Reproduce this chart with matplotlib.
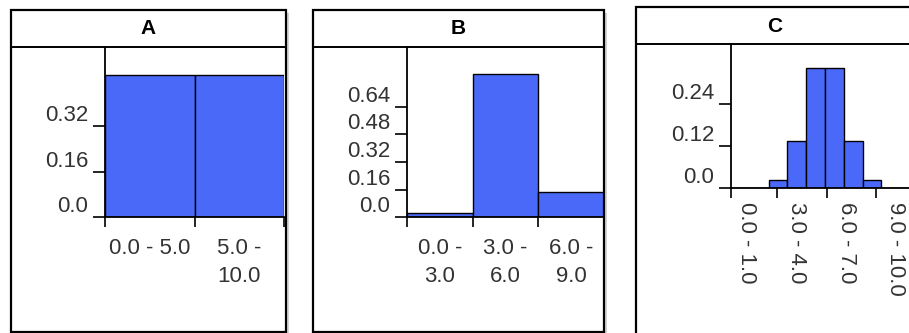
import numpy as np
import matplotlib
matplotlib.use('Agg')
from matplotlib import pyplot as plt
from matplotlib.patches import Rectangle
from matplotlib.lines import Line2D

# data
titles = ['A', 'B', 'C']

labels_a = ['0.0 - 5.0', '5.0 -\n10.0']
values_a = [0.5, 0.5]
yticks_a = [0.0, 0.16, 0.32]

labels_b = ['0.0 -\n3.0', '3.0 -\n6.0', '6.0 -\n9.0']
values_b = [0.023, 0.828, 0.149]
yticks_b = [0.0, 0.16, 0.32, 0.48, 0.64]

labels_c = ['0.0 - 1.0', '1.0 - 2.0', '2.0 - 3.0', '3.0 - 4.0', '4.0 - 5.0',
            '5.0 - 6.0', '6.0 - 7.0', '7.0 - 8.0', '8.0 - 9.0', '9.0 - 10.0']
values_c = [0.0, 0.0, 0.022, 0.134, 0.344, 0.344, 0.134, 0.022, 0.0, 0.0]
yticks_c = [0.0, 0.12, 0.24]

W, H = 909, 333
BAR = '#4A69F8'
TXT = '#333333'
FONT = 'Liberation Sans'

# panel geometry in pixels: box, header line, axis origin/right, y top value
panels = [
    dict(box=(11, 10, 286, 332), head=47, left=105, zero=217.3, right=284, ymax=0.598),
    dict(box=(313, 10, 604, 332), head=47, left=407, zero=217.3, right=604, ymax=0.985),
    dict(box=(636, 7, 914, 350), head=44, left=731, zero=187.7, right=919, ymax=0.412),
]


def fx(x):
    return x / W


def fy(y):
    return 1 - y / H


def fmt(v):
    return '0.0' if v == 0 else f'{v:.2f}'


def draw_frame(fig, p, title):
    x0, y0, x1, y1 = p['box']
    fig.add_artist(Rectangle((fx(x0 + 3), fy(y1 + 3)), fx(x1 - x0), (y1 - y0) / H,
                             transform=fig.transFigure, fc='#d4d4d4', ec='none', zorder=-3))
    fig.add_artist(Rectangle((fx(x0), fy(y1)), fx(x1 - x0), (y1 - y0) / H,
                             transform=fig.transFigure, fc='white', ec='none', zorder=-2))
    fig.add_artist(Rectangle((fx(x0), fy(y1)), fx(x1 - x0), (y1 - y0) / H,
                             transform=fig.transFigure, fill=False, ec='black', lw=1.6, zorder=5))
    fig.add_artist(Line2D([fx(x0), fx(x1)], [fy(p['head'])] * 2,
                          transform=fig.transFigure, color='black', lw=1.4, zorder=5))
    fig.text(fx((x0 + x1) / 2), fy((y0 + p['head']) / 2 + 0.5),
             title, ha='center', va='center', fontsize=15, fontweight='bold',
             family=FONT, color='black')


def make_axes(fig, p):
    ax = fig.add_axes([fx(p['left']), fy(p['zero']),
                       fx(p['right'] - p['left']), (p['zero'] - p['head']) / H])
    ax.set_facecolor('none')
    for s in ['top', 'right']:
        ax.spines[s].set_visible(False)
    for s in ['left', 'bottom']:
        ax.spines[s].set_linewidth(1.3)
    ax.set_ylim(0, p['ymax'])
    return ax


def style_y(ax, ticks):
    ax.set_yticks(ticks)
    ax.set_yticklabels([fmt(t) for t in ticks])
    ax.tick_params(axis='y', length=8.6, width=1.2, pad=3.6, labelsize=16,
                   labelcolor=TXT)
    for lab in ax.get_yticklabels():
        lab.set_va('bottom')
        lab.set_family(FONT)


def plot_cat(ax, labels, values):
    n = len(values)
    x = np.arange(n) + 0.5
    ax.bar(x, values, width=1.0, color=BAR, edgecolor='black', linewidth=1.0)
    ax.set_xlim(0, n)
    ax.set_xticks(np.arange(n + 1))
    ax.set_xticklabels([])
    ax.set_xticks(x, minor=True)
    ax.set_xticklabels(labels, minor=True)
    ax.tick_params(axis='x', which='major', length=7.2, width=1.2)
    ax.tick_params(axis='x', which='minor', length=0, pad=15, labelsize=16,
                   labelcolor=TXT)
    for lab in ax.get_xticklabels(minor=True):
        lab.set_family(FONT)
        lab.set_linespacing(1.4)


fig = plt.figure(figsize=(W / 100, H / 100), dpi=100)
fig.patch.set_facecolor('white')

for p, t in zip(panels, titles):
    draw_frame(fig, p, t)

ax_a = make_axes(fig, panels[0])
plot_cat(ax_a, labels_a, values_a)
style_y(ax_a, yticks_a)

ax_b = make_axes(fig, panels[1])
plot_cat(ax_b, labels_b, values_b)
style_y(ax_b, yticks_b)

# C: every third label, on a slightly compressed label scale
ax_c = make_axes(fig, panels[2])
n_c = len(values_c)
ax_c.bar(np.arange(n_c) + 0.5, values_c, width=1.0, color=BAR,
         edgecolor='black', linewidth=1.0)
ax_c.set_xlim(0, n_c)
step = 0.88
shown = np.arange(0, n_c, 3)
ax_c.set_xticks(np.concatenate([[0], step * shown[1:] - 0.2]))
ax_c.set_xticklabels([])
ax_c.set_xticks(step * shown + 0.84, minor=True)
ax_c.set_xticklabels([labels_c[i] for i in shown], minor=True, rotation=270)
ax_c.tick_params(axis='x', which='major', length=7.2, width=1.2)
ax_c.tick_params(axis='x', which='minor', length=0, pad=10.5, labelsize=16,
                 labelcolor=TXT)
for lab in ax_c.get_xticklabels(minor=True):
    lab.set_family(FONT)
    lab.set_va('top')
    lab.set_ha('center')
style_y(ax_c, yticks_c)

fig.savefig('out.png', dpi=100)
